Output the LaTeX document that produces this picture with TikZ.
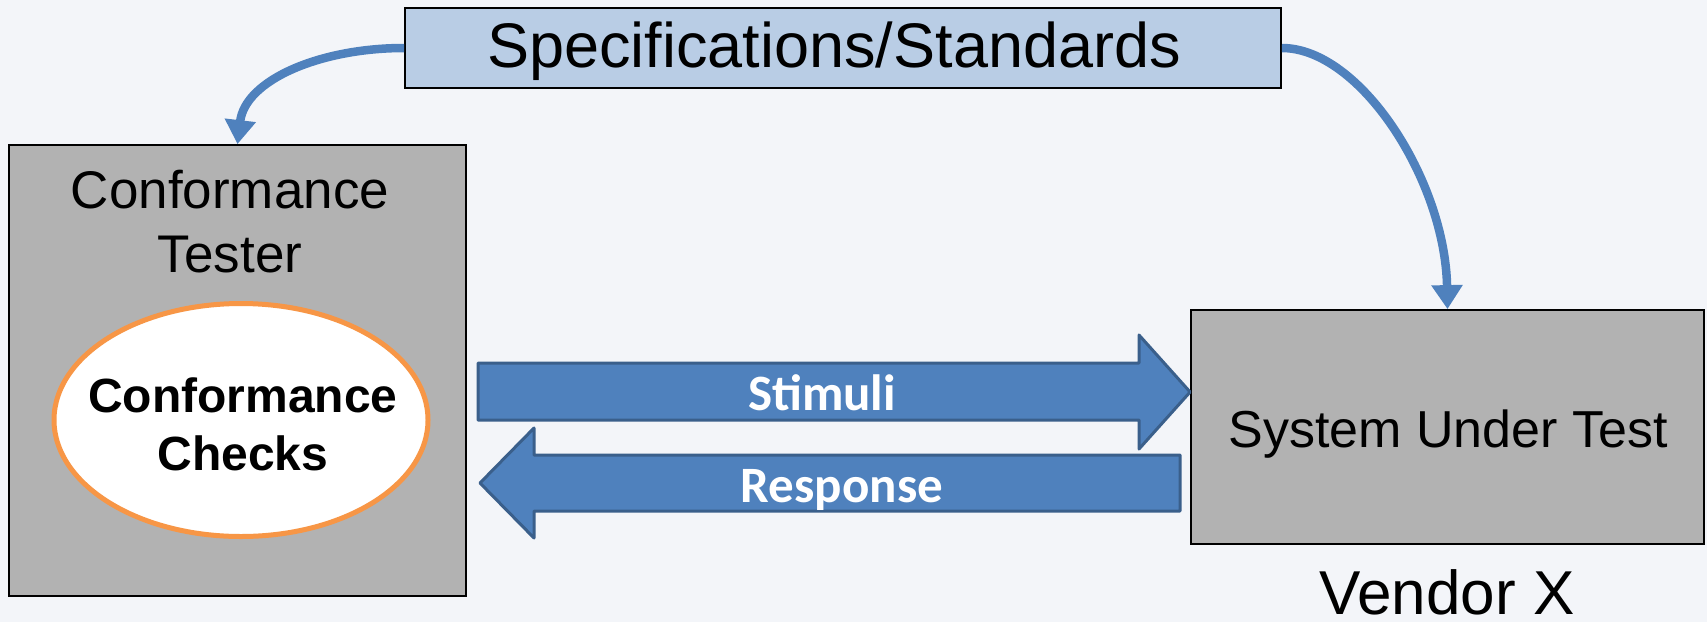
\documentclass[tikz,border=0pt]{standalone}
\usepackage{fontspec}
\setmainfont{Liberation Sans}
\newfontfamily\calfont{Carlito}
\usetikzlibrary{arrows.meta,shapes.geometric}
\definecolor{bgc}{RGB}{243,245,249}
\definecolor{graybox}{RGB}{178,178,178}
\definecolor{specfill}{RGB}{185,205,229}
\definecolor{curveblue}{RGB}{79,129,189}
\definecolor{arrowblue}{RGB}{79,129,189}
\definecolor{arrowedge}{RGB}{58,95,139}
\definecolor{ellorange}{RGB}{247,150,70}
\begin{document}
\begin{tikzpicture}[x=1pt,y=-1pt,
  box/.style={draw=black, line width=1.8pt, fill=graybox, inner sep=0pt},
  curv/.style={draw=curveblue, line width=8.5pt, -{Triangle[width=30pt,length=24pt]}},
  fat/.style={fill=arrowblue, draw=arrowedge, line width=3pt, line join=round},
  lbl/.style={inner sep=0pt, anchor=base, text=black},
  wlbl/.style={inner sep=0pt, anchor=base, text=white, font=\calfont\bfseries\fontsize{51}{60}\selectfont}
]
\fill[bgc] (0,0) rectangle (1707,622);
\useasboundingbox (0,0) rectangle (1707,622);

\node[box, fill=specfill, minimum width=876pt, minimum height=80pt] (spec) at (843,48) {};
\node[lbl, font=\fontsize{63}{70}\selectfont] (spect) at (834,67) {Specifications/Standards};

\node[box, minimum width=457pt, minimum height=451pt] (tester) at (237.5,370.5) {};
\node[lbl, font=\fontsize{53}{60}\selectfont] (tt1) at (230,208) {Conformance};
\node[lbl, font=\fontsize{53}{60}\selectfont] (tt2) at (230,272) {Tester};

\node[ellipse, draw=ellorange, line width=5pt, fill=white, minimum width=374pt, minimum height=233pt, inner sep=0pt] (checks) at (241,420) {};
\node[lbl, font=\bfseries\fontsize{48}{56}\selectfont] (ck1) at (243,412) {Conformance};
\node[lbl, font=\bfseries\fontsize{48}{56}\selectfont] (ck2) at (243,470) {Checks};

\node[box, minimum width=513pt, minimum height=234pt] (sut) at (1447.5,427) {};
\node[lbl, font=\fontsize{52}{60}\selectfont] (sutt) at (1448,447) {System Under Test};
\node[lbl, font=\fontsize{62}{70}\selectfont] (vendor) at (1447,614) {Vendor X};

\draw[curv] (spec.west) .. controls (320,48) and (245,80) .. (tester.north);
\draw[curv] (spec.east) .. controls (1360,48) and (1445,180) .. (sut.north);

\draw[fat] (478,363) -- (1139,363) -- (1139,335) -- (sut.west |- 0,392) -- (1139,449) -- (1139,420) -- (478,420) -- cycle;
\draw[fat] (1180,455) -- (534,455) -- (534,428) -- (480,483) -- (534,538) -- (534,511) -- (1180,511) -- cycle;
\node[wlbl] (stim) at (822,410) {Stimuli};
\node[wlbl] (resp) at (842,502) {Response};
\end{tikzpicture}
\end{document}
